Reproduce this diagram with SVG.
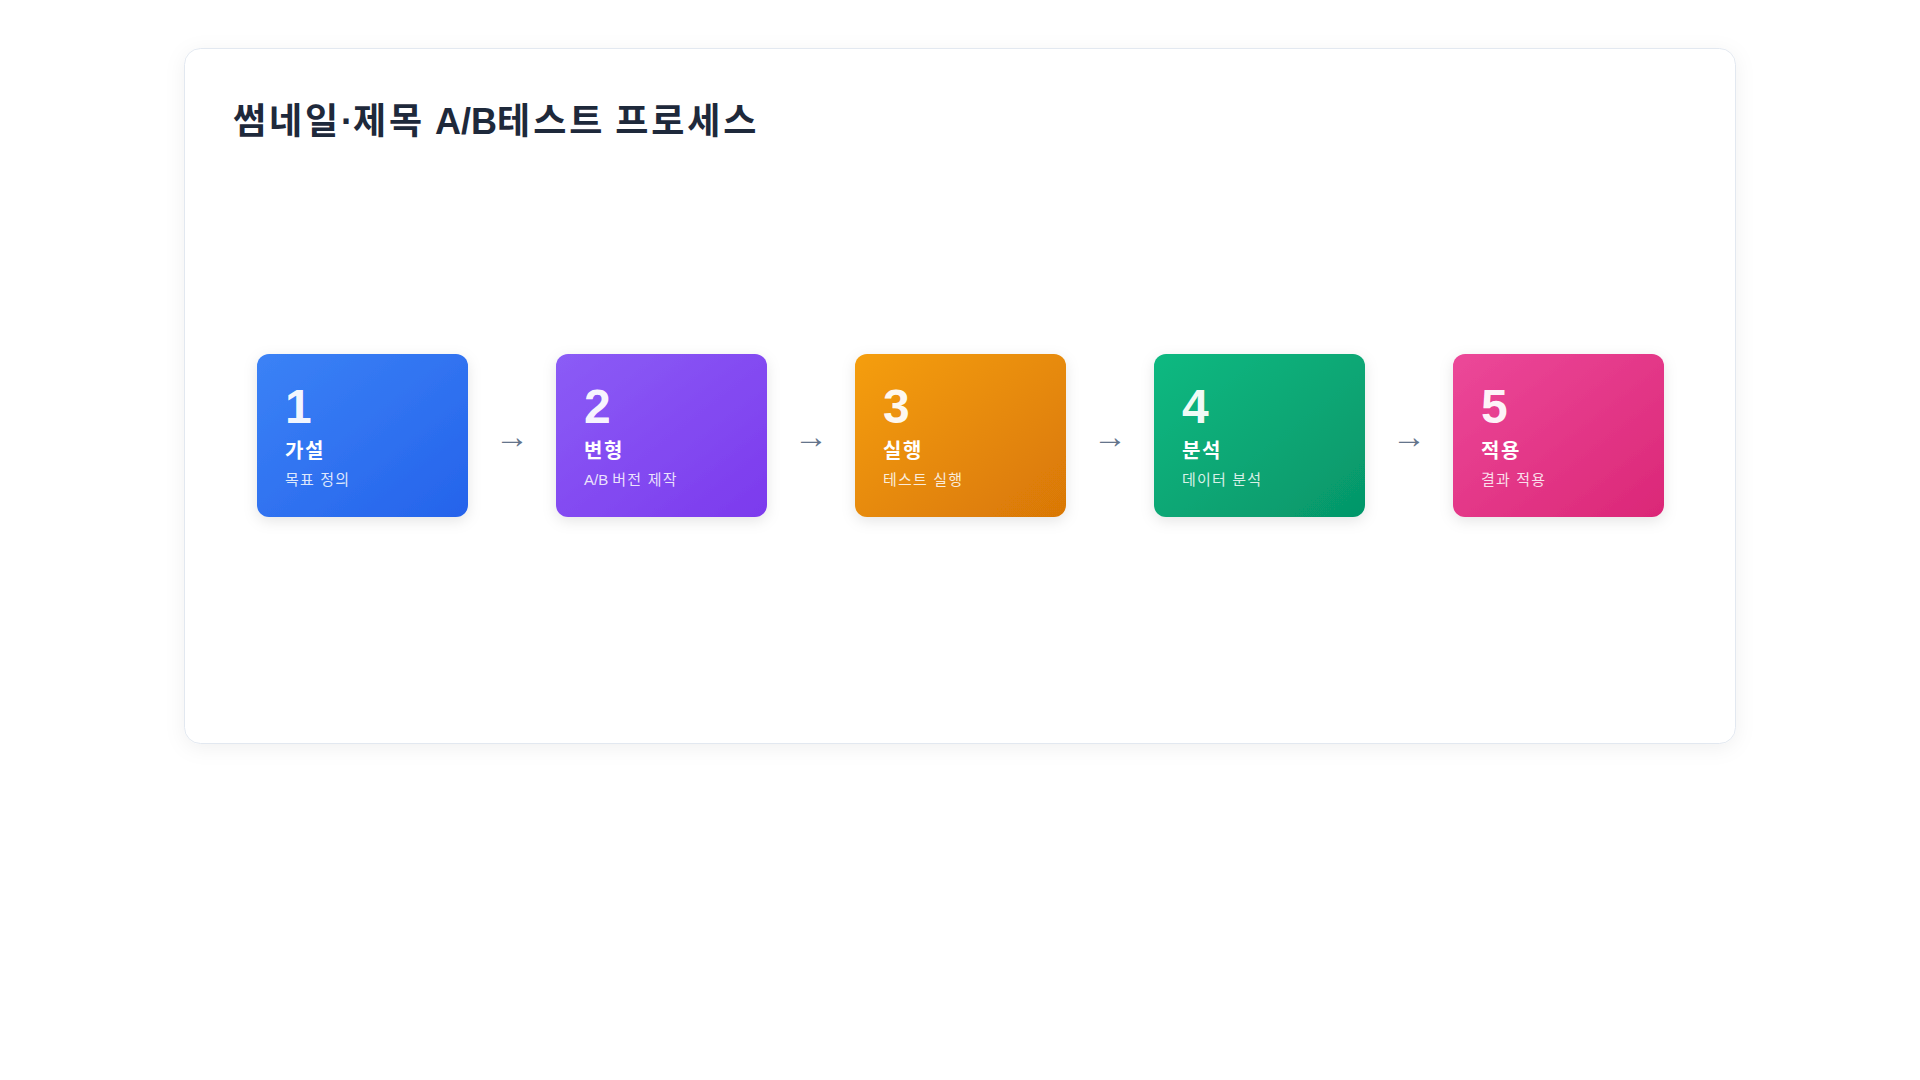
<svg xmlns="http://www.w3.org/2000/svg" width="1920" height="1080" viewBox="0 0 1920 1080">
  <defs>
    <linearGradient id="g1" x1="0" y1="0" x2="1" y2="1"><stop offset="0" stop-color="#3b82f6"/><stop offset="1" stop-color="#2563eb"/></linearGradient>
    <linearGradient id="g2" x1="0" y1="0" x2="1" y2="1"><stop offset="0" stop-color="#8b5cf6"/><stop offset="1" stop-color="#7c3aed"/></linearGradient>
    <linearGradient id="g3" x1="0" y1="0" x2="1" y2="1"><stop offset="0" stop-color="#f59e0b"/><stop offset="1" stop-color="#d97706"/></linearGradient>
    <linearGradient id="g4" x1="0" y1="0" x2="1" y2="1"><stop offset="0" stop-color="#10b981"/><stop offset="1" stop-color="#059669"/></linearGradient>
    <linearGradient id="g5" x1="0" y1="0" x2="1" y2="1"><stop offset="0" stop-color="#ec4899"/><stop offset="1" stop-color="#db2777"/></linearGradient>
    <filter id="cardShadow" x="-10%" y="-10%" width="120%" height="130%">
      <feDropShadow dx="0" dy="4" stdDeviation="10" flood-color="#0f172a" flood-opacity="0.06"/>
    </filter>
    <filter id="boxShadow" x="-20%" y="-20%" width="140%" height="150%">
      <feDropShadow dx="0" dy="4" stdDeviation="7" flood-color="#000000" flood-opacity="0.1"/>
    </filter>
    <style>
      text { font-family: "Liberation Sans", "Noto Sans CJK KR", Arial, sans-serif; }
      .title { font-size: 36px; font-weight: 700; fill: #1e293b; }
      .title .h { letter-spacing: 2.9px; }
      .num { font-size: 48px; font-weight: 700; fill: #ffffff; fill-opacity: 0.95; }
      .name { font-size: 20px; font-weight: 700; fill: #ffffff; letter-spacing: 1.6px; }
      .desc { font-size: 15px; fill: #ffffff; fill-opacity: 0.85; }
      .desc .h { letter-spacing: 1.2px; }
      .arrow { font-size: 34px; fill: #64748b; text-anchor: middle; }
      .box { filter: url(#boxShadow); }
    </style>
  </defs>
  <rect x="0" y="0" width="1920" height="1080" fill="#ffffff"/>
  <g id="card">
    <rect x="184.5" y="48.5" width="1551" height="695" rx="16" fill="#ffffff" stroke="#e2e8f0" stroke-width="1" filter="url(#cardShadow)"/>
    <text class="title" x="233" y="134"><tspan class="h">썸네일</tspan>·<tspan class="h">제목</tspan> A/B<tspan class="h">테스트</tspan> <tspan class="h">프로세스</tspan></text>
  </g>
  <g id="connectors">
    <text class="arrow" x="512" y="448">→</text>
    <text class="arrow" x="811" y="448">→</text>
    <text class="arrow" x="1110" y="448">→</text>
    <text class="arrow" x="1409" y="448">→</text>
  </g>
  <g id="step1">
    <rect class="box" x="257" y="354" width="211" height="163" rx="12" fill="url(#g1)"/>
    <text class="num" x="285" y="423">1</text>
    <text class="name" x="285" y="458">가설</text>
    <text class="desc" x="285" y="485"><tspan class="h">목표 정의</tspan></text>
  </g>
  <g id="step2">
    <rect class="box" x="556" y="354" width="211" height="163" rx="12" fill="url(#g2)"/>
    <text class="num" x="584" y="423">2</text>
    <text class="name" x="584" y="458">변형</text>
    <text class="desc" x="584" y="485">A/B <tspan class="h">버전 제작</tspan></text>
  </g>
  <g id="step3">
    <rect class="box" x="855" y="354" width="211" height="163" rx="12" fill="url(#g3)"/>
    <text class="num" x="883" y="423">3</text>
    <text class="name" x="883" y="458">실행</text>
    <text class="desc" x="883" y="485"><tspan class="h">테스트 실행</tspan></text>
  </g>
  <g id="step4">
    <rect class="box" x="1154" y="354" width="211" height="163" rx="12" fill="url(#g4)"/>
    <text class="num" x="1182" y="423">4</text>
    <text class="name" x="1182" y="458">분석</text>
    <text class="desc" x="1182" y="485"><tspan class="h">데이터 분석</tspan></text>
  </g>
  <g id="step5">
    <rect class="box" x="1453" y="354" width="211" height="163" rx="12" fill="url(#g5)"/>
    <text class="num" x="1481" y="423">5</text>
    <text class="name" x="1481" y="458">적용</text>
    <text class="desc" x="1481" y="485"><tspan class="h">결과 적용</tspan></text>
  </g>
</svg>
